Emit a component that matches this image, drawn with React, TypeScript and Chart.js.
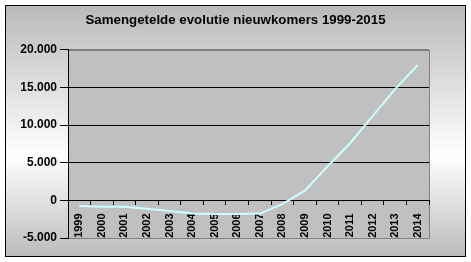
import React, { useEffect, useRef } from "react";
import { Chart, registerables } from "chart.js";

Chart.register(...registerables);

const years = ["1999","2000","2001","2002","2003","2004","2005","2006","2007","2008","2009","2010","2011","2012","2013","2014"];
const values = [-750, -850, -850, -1100, -1400, -1750, -1800, -1800, -1750, -500, 1300, 4500, 7600, 11200, 14800, 18000];
const yMin = -5000;
const yMax = 20000;
const yStep = 5000;
const title = "Samengetelde evolutie nieuwkomers 1999-2015";

const FONT = "'Liberation Sans', Arial, sans-serif";

const fmt = (v: number) => String(v).replace(/\B(?=(\d{3})+(?!\d))/g, ".");

const bgPlugin = {
  id: "bgPlugin",
  beforeDraw(chart: any) {
    const { ctx, chartArea } = chart;
    ctx.save();
    ctx.fillStyle = "#ffffff";
    ctx.fillRect(0, 0, chart.width, chart.height);
    const g = ctx.createLinearGradient(0, 5, 0, 256);
    g.addColorStop(0, "#b9b9b9");
    g.addColorStop(0.6, "#ffffff");
    g.addColorStop(1, "#bcbcbc");
    ctx.fillStyle = g;
    ctx.fillRect(5, 5, 460, 251);
    ctx.strokeStyle = "#000000";
    ctx.lineWidth = 1;
    ctx.strokeRect(5.5, 5.5, 460, 251);
    const { left, top, right, bottom } = chartArea;
    ctx.fillStyle = "#c0c0c0";
    ctx.fillRect(left, top, right - left, bottom - top);
    ctx.strokeStyle = "#808080";
    ctx.strokeRect(Math.round(left) + 0.5, Math.round(top) + 0.5, Math.round(right - left), Math.round(bottom - top));
    ctx.restore();
  },
};

export default function App() {
  const ref = useRef<HTMLCanvasElement>(null);
  useEffect(() => {
    document.body.style.margin = "0";
    const chart = new Chart(ref.current as HTMLCanvasElement, {
      type: "line",
      data: {
        labels: years,
        datasets: [
          {
            data: values,
            borderColor: "#ccffff",
            borderWidth: 2,
            pointRadius: 0,
            tension: 0,
            fill: false,
          },
        ],
      },
      options: {
        animation: false,
        responsive: false,
        devicePixelRatio: 1,
        layout: { padding: { left: 5, right: 5, top: 0, bottom: 24 } },
        plugins: {
          legend: { display: false },
          tooltip: { enabled: false },
          title: {
            display: true,
            text: title,
            color: "#000000",
            font: { family: FONT, size: 13.3, weight: "bold" },
            padding: { top: 12.5, bottom: 21.5 },
          },
        },
        scales: {
          x: {
            position: { y: 0 } as any,
            offset: true,
            grid: {
              display: true,
              drawOnChartArea: false,
              drawTicks: true,
              tickLength: 4,
              offset: true,
              color: "#000000",
            },
            border: { display: true, color: "#000000", width: 1 },
            ticks: {
              autoSkip: false,
              minRotation: 90,
              maxRotation: 90,
              padding: 9,
              color: "#000000",
              font: { family: FONT, size: 11, weight: "bold" },
            },
          },
          y: {
            min: yMin,
            max: yMax,
            afterFit: (s: any) => {
              s.width = 63;
            },
            grid: {
              color: (c: any) =>
                c.tick && (c.tick.value === yMax || c.tick.value === yMin) ? "#808080" : "#000000",
              tickColor: "#000000",
              tickLength: 8,
            },
            border: { display: true, color: "#000000", width: 1 },
            ticks: {
              stepSize: yStep,
              padding: 3,
              color: "#000000",
              font: { family: FONT, size: 12, weight: "bold" },
              callback: (v: any) => fmt(Number(v)),
            },
          },
          yPad: {
            type: "linear",
            position: "right",
            min: yMin,
            max: yMax,
            afterFit: (s: any) => {
              s.width = 37;
            },
            grid: { display: false },
            border: { display: false },
            ticks: { display: false },
          },
        },
      },
      plugins: [bgPlugin],
    });
    return () => chart.destroy();
  }, []);
  return (
    <div style={{ width: 471, height: 262 }}>
      <canvas ref={ref} width={471} height={262} style={{ display: "block" }} />
    </div>
  );
}
